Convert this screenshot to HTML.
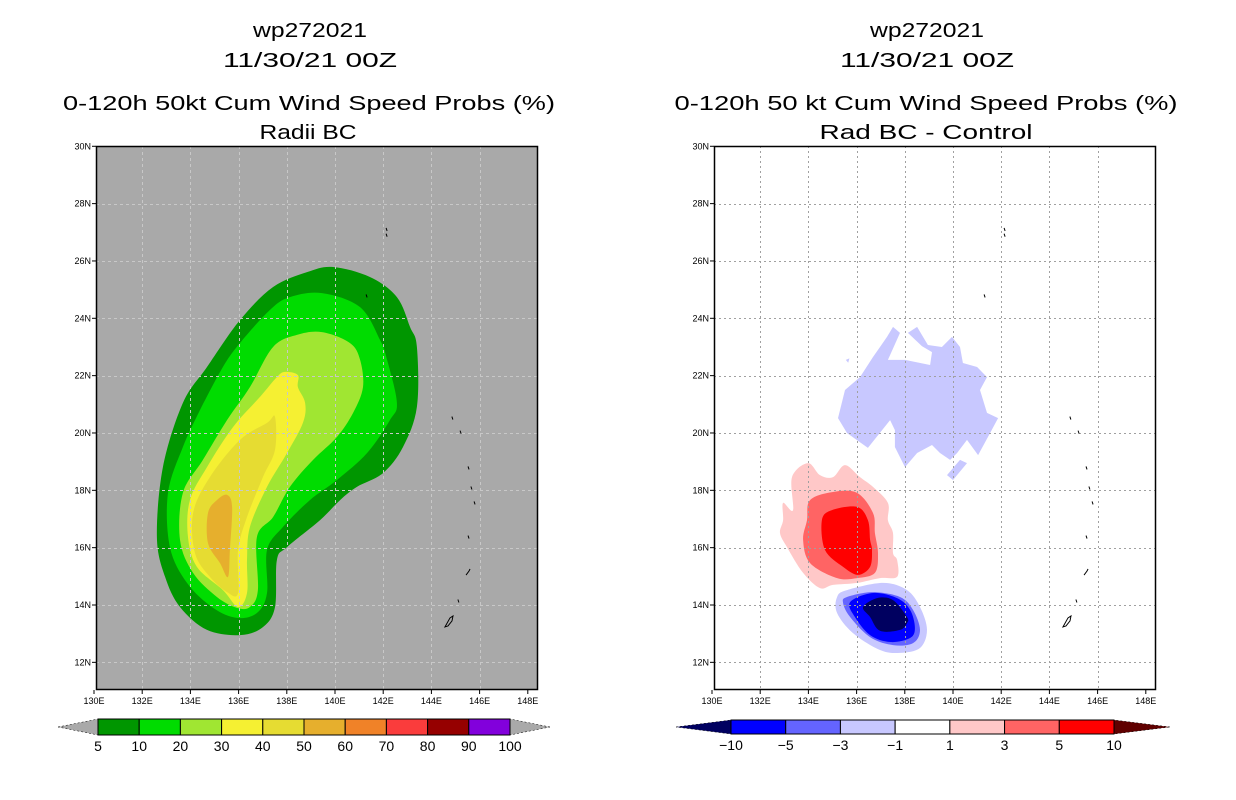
<!DOCTYPE html>
<html><head><meta charset="utf-8"><title>wp272021 wind speed probs</title>
<style>
html,body{margin:0;padding:0;background:#fff;}
svg{display:block;font-family:"Liberation Sans",sans-serif;}
</style></head>
<body>
<svg id="chart" width="1236" height="800" viewBox="0 0 1236 800" xmlns="http://www.w3.org/2000/svg">
<g id="titles" font-size="20" fill="#000" text-anchor="middle">
  <text x="310" y="37" textLength="114" lengthAdjust="spacingAndGlyphs">wp272021</text>
  <text x="310" y="67" textLength="174" lengthAdjust="spacingAndGlyphs">11/30/21 00Z</text>
  <text x="309" y="110" textLength="492" lengthAdjust="spacingAndGlyphs">0-120h 50kt Cum Wind Speed Probs (%)</text>
  <text x="308" y="139" textLength="97" lengthAdjust="spacingAndGlyphs">Radii BC</text>
  <text x="927" y="37" textLength="114" lengthAdjust="spacingAndGlyphs">wp272021</text>
  <text x="927" y="67" textLength="174" lengthAdjust="spacingAndGlyphs">11/30/21 00Z</text>
  <text x="926" y="110" textLength="503" lengthAdjust="spacingAndGlyphs">0-120h 50 kt Cum Wind Speed Probs (%)</text>
  <text x="926" y="139" textLength="213" lengthAdjust="spacingAndGlyphs">Rad BC - Control</text>
</g>
<defs>
  <clipPath id="clipL"><rect x="96" y="146" width="442" height="544"/></clipPath>
  <clipPath id="clipR"><rect x="714" y="146" width="442" height="544"/></clipPath>
</defs>
<g id="panelL"></g>
<g id="panelR"></g>
<g id="cbars"></g>
</svg>
<script>
// ---- data ----
const lonTicks = [130,132,134,136,138,140,142,144,146,148];
const latTicks = [12,14,16,18,20,22,24,26,28,30];
const probLevels = [5,10,20,30,40,50,60,70,80,90,100];
const probColors = ["#009600","#00dc00","#a0e632","#f5f032","#e6dc32","#e6af2d","#f08228","#fa3c3c","#960000","#8200dc"];
const diffLevels = [-10,-5,-3,-1,1,3,5,10];
const diffColors = ["#000060","#0000ff","#6464ff","#c8c8ff","#ffffff","#ffc8c8","#ff6464","#ff0000","#600000"];

// left panel probability contours (lon, lat), outer to inner
const prob5 = [[139.92,25.79],[141.45,25.44],[142.57,24.74],[143.11,23.70],[143.40,23.00],[143.40,20.91],[142.82,19.51],[141.99,18.60],[140.91,18.12],[140.21,17.66],[139.38,16.96],[138.01,16.02],[137.59,15.57],[137.51,13.93],[137.01,13.23],[136.06,12.95],[134.69,13.13],[133.57,13.93],[132.95,14.98],[132.61,16.37],[132.86,18.81],[133.69,21.05],[134.69,22.30],[136.06,23.94],[137.43,25.09],[138.84,25.61]];
const prob10 = [[139.46,24.88],[141.04,24.39],[141.87,23.24],[142.16,22.55],[142.57,21.05],[142.28,20.45],[141.33,19.30],[140.08,18.36],[138.96,17.66],[137.84,16.72],[137.18,15.92],[137.18,14.42],[136.76,13.72],[135.93,13.55],[134.94,13.90],[133.86,14.77],[133.15,16.02],[133.07,17.91],[133.69,19.51],[134.40,20.80],[135.35,22.30],[136.06,23.14],[137.30,24.29],[138.13,24.74]];
const prob20 = [[139.46,23.52],[140.62,23.14],[141.04,22.55],[141.16,21.60],[140.75,20.70],[140.08,19.86],[139.09,19.06],[138.13,18.12],[137.43,17.07],[136.76,16.37],[136.80,14.52],[136.47,13.93],[135.93,13.90],[135.10,14.28],[134.11,15.12],[133.57,16.27],[133.69,17.91],[134.52,19.06],[135.52,20.45],[136.47,21.60],[137.43,23.00],[138.42,23.42]];
const prob30 = [[137.93,22.13],[138.46,22.02],[138.46,21.60],[138.76,21.05],[138.67,20.35],[138.01,19.30],[137.18,18.12],[136.47,16.72],[136.35,15.57],[136.35,14.42],[135.98,13.93],[135.35,14.52],[134.27,15.33],[133.90,16.37],[133.98,17.66],[134.69,18.81],[135.77,20.21],[136.89,21.26],[137.59,21.95]];
const prob40 = [[137.51,20.56],[137.51,19.41],[137.01,18.46],[136.35,17.07],[135.98,15.92],[135.98,14.42],[135.52,14.45],[134.81,14.98],[134.19,15.81],[134.11,17.21],[134.81,18.46],[136.06,19.76],[137.18,20.35]];
const prob50 = [[135.52,17.84],[135.73,17.42],[135.64,15.92],[135.56,14.98],[135.23,15.46],[134.73,16.16],[134.73,17.21],[135.10,17.66]];

// right panel difference contours
const diffNeg1 = [[137.26,23.35],[137.51,23.70],[137.80,23.49],[137.30,22.55],[138.01,22.55],[139.05,22.37],[139.13,22.82],[138.71,23.03],[138.13,23.49],[138.51,23.70],[138.96,23.07],[139.54,23.00],[139.96,23.35],[140.29,23.00],[140.41,22.44],[141.00,22.30],[141.41,21.95],[141.12,21.50],[141.41,20.70],[141.87,20.52],[141.54,20.00],[141.04,19.23],[140.58,19.76],[140.17,19.30],[139.88,19.06],[139.46,19.30],[139.13,19.58],[138.51,19.30],[138.01,18.81],[137.59,19.51],[137.59,20.10],[137.39,20.45],[136.47,19.48],[135.60,20.00],[135.23,20.52],[135.52,21.50],[136.14,21.95],[136.68,22.65],[136.97,23.00]];
const diffNeg1b = [[140.0,18.36],[139.75,18.53],[140.29,19.06],[140.58,18.95]];
const diffNeg1c = [[135.55,22.55],[135.7,22.6],[135.65,22.45]];
const diffPos1 = [[133.98,18.95],[134.48,18.53],[135.02,18.46],[135.52,18.88],[136.14,18.46],[136.68,18.12],[137.30,17.56],[137.30,16.96],[137.51,16.51],[137.51,15.81],[137.68,15.57],[137.68,14.98],[136.97,14.94],[136.02,14.77],[135.02,14.70],[134.48,14.59],[133.78,15.12],[133.11,16.02],[132.82,16.51],[132.95,16.96],[132.95,17.56],[133.36,17.31],[133.32,18.46]];
const diffPos3 = [[134.07,17.66],[135.02,17.94],[136.02,17.91],[136.68,17.21],[136.76,16.51],[136.89,15.81],[136.76,15.12],[136.02,14.94],[135.19,14.94],[134.07,15.46],[133.78,16.27],[133.94,16.96]];
const diffPos5 = [[134.98,17.31],[136.02,17.42],[136.47,16.96],[136.56,16.27],[136.64,15.92],[136.56,15.33],[136.06,15.05],[135.44,15.33],[134.69,15.92],[134.56,16.96]];
const diffNeg1s = [[135.60,14.52],[137.10,14.77],[138.09,14.52],[138.63,13.93],[138.92,13.13],[138.63,12.50],[137.80,12.33],[136.97,12.43],[135.85,13.02],[135.19,13.72],[135.19,14.28]];
const diffNeg3 = [[135.60,14.28],[136.68,14.45],[137.80,14.28],[138.34,13.83],[138.63,13.13],[138.34,12.67],[137.51,12.60],[136.56,12.88],[135.73,13.58],[135.44,14.07]];
const diffNeg5 = [[135.73,14.10],[136.68,14.42],[137.68,14.24],[138.22,13.83],[138.42,13.20],[138.22,12.85],[137.39,12.71],[136.56,12.95],[135.93,13.58]];
const diffNeg10 = [[136.27,13.93],[136.85,14.24],[137.51,14.17],[138.09,13.58],[138.09,13.37],[137.80,13.13],[136.97,13.10],[136.56,13.58]];

// islands (lon, lat)
const islands = [[142.12,27.1],[142.12,26.9],[141.29,24.78],[144.85,20.52],[145.19,20.03],[145.52,18.78],[145.64,18.08],[145.77,17.56],[145.52,16.37],[145.52,15.15],[145.10,14.14],[144.73,13.41]];

// ---- axis functions ----
const NS = "http://www.w3.org/2000/svg";
function xScale(lon, off){ return off + 94 + 24.1*(lon-130); }
function yScale(lat){ return 605 - 28.67*(lat-14); }
function mk(tag, attrs, parent){
  const e = document.createElementNS(NS, tag);
  for (const k in attrs) e.setAttribute(k, attrs[k]);
  parent.appendChild(e); return e;
}
function smoothPath(P){
  const n = P.length, t = 0.5/3;
  let d = `M${P[0][0].toFixed(1)},${P[0][1].toFixed(1)}`;
  for (let i=0;i<n;i++){
    const p0=P[(i-1+n)%n], p1=P[i], p2=P[(i+1)%n], p3=P[(i+2)%n];
    const c1=[p1[0]+(p2[0]-p0[0])*t, p1[1]+(p2[1]-p0[1])*t];
    const c2=[p2[0]-(p3[0]-p1[0])*t, p2[1]-(p3[1]-p1[1])*t];
    d += ` C${c1[0].toFixed(1)},${c1[1].toFixed(1)} ${c2[0].toFixed(1)},${c2[1].toFixed(1)} ${p2[0].toFixed(1)},${p2[1].toFixed(1)}`;
  }
  return d+'Z';
}
function poly(pts, off, fill, parent, name, smooth){
  const P = pts.map(p => [xScale(p[0],off), yScale(p[1])]);
  let e;
  if (smooth) e = mk('path', {d: smoothPath(P), fill: fill}, parent);
  else e = mk('polygon', {points: P.map(p => p[0].toFixed(1)+','+p[1].toFixed(1)).join(' '), fill: fill}, parent);
  
  
  return e;
}

function drawPanel(gid, off, bg, clipId){
  const g = document.getElementById(gid);
  const inner = mk('g', {'clip-path':'url(#'+clipId+')'}, g);
  const bgr = mk('rect', {x: off+96, y:146, width:442, height:544, fill:bg}, inner);
  
  
  return {g, inner};
}
function drawGrid(p, off, gridColor, dash){
  const grid = mk('g', {stroke:gridColor, 'stroke-width':1, 'stroke-dasharray':dash}, p.inner);
  
  
  lonTicks.forEach(lon => { if (lon>130 && lon<148) { const x = Math.round(xScale(lon,off))+0.5; mk('line',{x1:x,y1:146,x2:x,y2:690},grid);} });
  latTicks.forEach(lat => { if (lat>11 && lat<30) { const y = Math.round(yScale(lat))+0.5; mk('line',{x1:off+96,y1:y,x2:off+538,y2:y},grid);} });
}
function drawIslands(p, off){
  const ig = mk('g', {stroke:'#000','stroke-width':1, fill:'none'}, p.inner);
  
  
  islands.forEach((q,i) => {
    const x = xScale(q[0],off), y = yScale(q[1]);
    if (i === islands.length-1) {
      mk('polygon',{points:`${x-4},${y+5} ${x+1},${y-4} ${x+4},${y-6} ${x+3},${y-1} ${x-1},${y+4}`},ig);
    } else if (i === 9) {
      mk('polyline',{points:`${x-2},${y+3} ${x+1},${y-1} ${x+2},${y-3}`},ig);
    } else {
      mk('line',{x1:x,y1:y-1.5,x2:x+1,y2:y+1.5},ig);
    }
  });
}
function drawFrame(p, off){
  const f = mk('rect',{x:off+96.5,y:146.5,width:441,height:543,fill:'none',stroke:'#000','stroke-width':1.5}, p.g);
  
  
  const tg = mk('g',{'font-size':9,fill:'#000'}, p.g);
  
  
  latTicks.forEach(lat => {
    const y = yScale(lat);
    mk('line',{x1:off+92,y1:y,x2:off+96,y2:y,stroke:'#000'},p.g);
    const t = mk('text',{x:off+91,y:y+3,'text-anchor':'end'},tg);
    t.textContent = lat+'N';
  });
  lonTicks.forEach(lon => {
    const x = xScale(lon,off);
    mk('line',{x1:x,y1:690,x2:x,y2:694,stroke:'#000'},p.g);
    const t = mk('text',{x:x,y:704,'text-anchor':'middle'},tg);
    t.textContent = lon+'E';
  });
}

// left panel
const L = drawPanel('panelL', 0, '#a9a9a9', 'clipL');
[prob5,prob10,prob20,prob30,prob40,prob50].forEach((c,i)=> poly(c, 0, probColors[i], L.inner, 'prob-contour-'+probLevels[i], true));
drawGrid(L, 0, '#c8c8c8', '3,3');
drawIslands(L, 0);
drawFrame(L, 0);

// right panel
const R = drawPanel('panelR', 618, '#ffffff', 'clipR');
poly(diffNeg1, 618, diffColors[3], R.inner, 'diff-contour-neg1', false);
poly(diffNeg1b, 618, diffColors[3], R.inner, 'diff-contour-neg1-small', false);
poly(diffNeg1c, 618, diffColors[3], R.inner, 'diff-contour-neg1-speck', false);
poly(diffPos1, 618, diffColors[5], R.inner, 'diff-contour-pos1', true);
poly(diffPos3, 618, diffColors[6], R.inner, 'diff-contour-pos3', true);
poly(diffPos5, 618, diffColors[7], R.inner, 'diff-contour-pos5', true);
poly(diffNeg1s, 618, diffColors[3], R.inner, 'diff-contour-neg1-south', true);
poly(diffNeg3, 618, diffColors[2], R.inner, 'diff-contour-neg3', true);
poly(diffNeg5, 618, diffColors[1], R.inner, 'diff-contour-neg5', true);
poly(diffNeg10, 618, diffColors[0], R.inner, 'diff-contour-neg10', true);
drawGrid(R, 618, '#a0a0a0', '2,3');
drawIslands(R, 618);
drawFrame(R, 618);

// colorbars
const cb = document.getElementById('cbars');
function colorbar(x0, x1, tipL, tipR, y0, y1, colors, labels, tipColL, tipColR, name){
  const g = mk('g', {}, cb);
  
  
  const n = colors.length, w = (x1-x0)/n, ym = (y0+y1)/2;
  mk('polygon',{points:`${tipL},${ym} ${x0},${y0} ${x0},${y1}`,fill:tipColL,stroke:'#000','stroke-width':0.5,'stroke-dasharray':'2,2'},g);
  mk('polygon',{points:`${tipR},${ym} ${x1},${y0} ${x1},${y1}`,fill:tipColR,stroke:'#000','stroke-width':0.5,'stroke-dasharray':'2,2'},g);
  colors.forEach((c,i)=>{
    const r = mk('rect',{x:x0+i*w,y:y0,width:w,height:y1-y0,fill:c,stroke:'#000','stroke-width':1},g);
    
    
  });
  labels.forEach((l,i)=>{
    const t = mk('text',{x:x0+i*w,y:y1+16,'text-anchor':'middle','font-size':14,fill:'#000'},g);
    t.textContent = String(l).replace('-', '\u2212');
  });
}
colorbar(98, 510, 58, 550, 719, 735, probColors, probLevels, '#a9a9a9', '#a9a9a9', 'left-colorbar');
colorbar(731, 1114, 676, 1170, 720, 734, diffColors.slice(1,8), diffLevels, diffColors[0], diffColors[8], 'right-colorbar');
</script>
</body></html>
